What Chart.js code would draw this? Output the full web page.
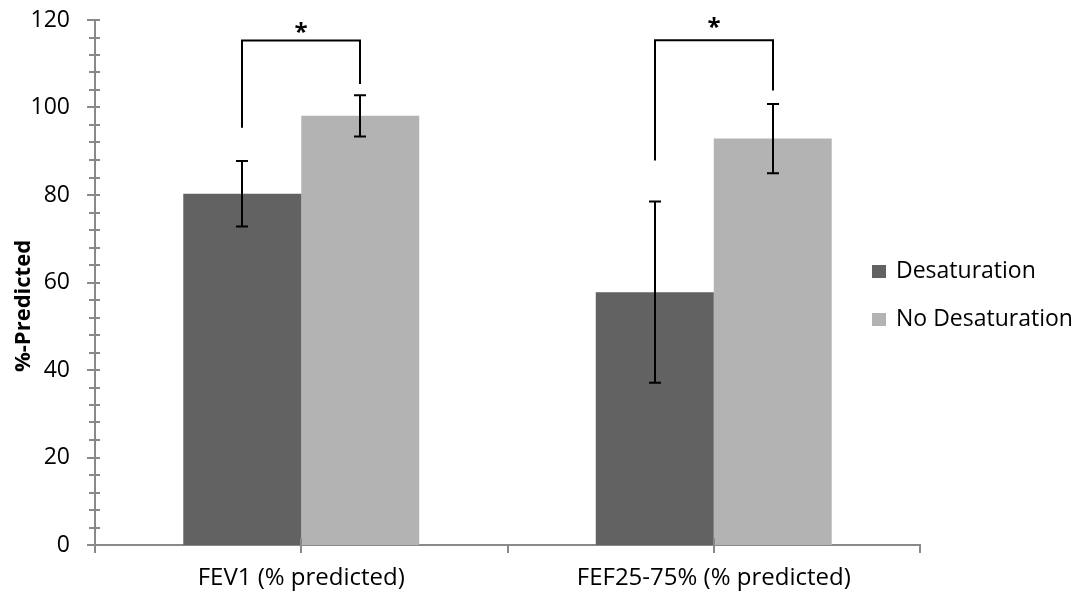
<!DOCTYPE html>
<html>
<head>
<meta charset="utf-8">
<script src="https://cdn.jsdelivr.net/npm/chart.js@4.4.1/dist/chart.umd.min.js"></script>
<style>
  html, body { margin: 0; padding: 0; background: #ffffff; }
  #wrap { width: 1083px; height: 601px; position: relative; }
</style>
</head>
<body>
<div id="wrap"><canvas id="c"></canvas></div>
<script>
// ---- data ----
const categories = ['FEV1 (% predicted)', 'FEF25-75% (% predicted)'];
const seriesLabels = ['Desaturation', 'No Desaturation'];
const desaturation = [80.3, 57.8];
const noDesaturation = [98.1, 92.9];
const desaturationErr = [7.5, 20.7];
const noDesaturationErr = [4.7, 7.9];
// significance brackets (in %-predicted units)
const bracketTop = [115.3, 115.4];
const bracketLeftEnd = [95.4, 87.9];
const bracketRightEnd = [105.4, 103.9];
const starCenter = [118.4, 119.5];
const sigLabels = ['*', '*'];
// y axis
const yMin = 0, yMax = 120, yMajorStep = 20, yMinorStep = 4;
const yTitle = '%-Predicted';

const colors = ['#626262', '#b3b3b3'];
const axisColor = '#898989';
const FONT = "'Open Sans', 'DejaVu Sans', sans-serif";

const errors = [desaturationErr, noDesaturationErr];

const decorPlugin = {
  id: 'decor',
  afterDatasetsDraw(chart) {
    const ctx = chart.ctx;
    const y = chart.scales.y;
    ctx.save();
    // error bars
    ctx.strokeStyle = '#000';
    ctx.lineWidth = 2;
    chart.data.datasets.forEach((ds, di) => {
      const meta = chart.getDatasetMeta(di);
      meta.data.forEach((bar, i) => {
        const v = ds.data[i], e = errors[di][i];
        const px = Math.round(bar.x);
        const top = y.getPixelForValue(v + e);
        const bot = y.getPixelForValue(v - e);
        ctx.beginPath();
        ctx.moveTo(px, top); ctx.lineTo(px, bot);
        ctx.moveTo(px - 6, top); ctx.lineTo(px + 6, top);
        ctx.moveTo(px - 6, bot); ctx.lineTo(px + 6, bot);
        ctx.stroke();
      });
    });
    // brackets and stars
    const m0 = chart.getDatasetMeta(0), m1 = chart.getDatasetMeta(1);
    categories.forEach((c, i) => {
      const xl = Math.round(m0.data[i].x), xr = Math.round(m1.data[i].x);
      const yt = y.getPixelForValue(bracketTop[i]);
      ctx.beginPath();
      ctx.moveTo(xl, y.getPixelForValue(bracketLeftEnd[i]));
      ctx.lineTo(xl, yt);
      ctx.lineTo(xr, yt);
      ctx.lineTo(xr, y.getPixelForValue(bracketRightEnd[i]));
      ctx.stroke();
      ctx.font = 'bold 24px ' + FONT;
      ctx.fillStyle = '#000';
      ctx.textAlign = 'center';
      ctx.textBaseline = 'alphabetic';
      const m = ctx.measureText(sigLabels[i]);
      const mid = (m.actualBoundingBoxAscent - m.actualBoundingBoxDescent) / 2;
      ctx.fillText(sigLabels[i], (xl + xr) / 2, y.getPixelForValue(starCenter[i]) + mid);
    });
    ctx.restore();
  },
  afterDraw(chart) {
    const ctx = chart.ctx;
    const y = chart.scales.y;
    const x = chart.scales.x;
    const area = chart.chartArea;
    ctx.save();
    ctx.strokeStyle = axisColor;
    ctx.lineWidth = 2;
    // y ticks crossing the axis
    y.ticks.forEach(t => {
      const py = Math.round(y.getPixelForValue(t.value));
      const major = t.value % yMajorStep === 0;
      ctx.beginPath();
      ctx.moveTo(area.left - (major ? 8 : 6), py);
      ctx.lineTo(area.left + 5, py);
      ctx.stroke();
    });
    // x ticks: boundaries below, centres crossing
    const half = (x.getPixelForValue(1) - x.getPixelForValue(0)) / 2;
    categories.forEach((c, i) => {
      const cx = Math.round(x.getPixelForValue(i));
      ctx.beginPath();
      ctx.moveTo(cx, area.bottom - 7); ctx.lineTo(cx, area.bottom + 8);
      ctx.stroke();
    });
    for (let i = 0; i <= categories.length; i++) {
      const bx = Math.round(x.getPixelForValue(0) - half + i * 2 * half);
      ctx.beginPath();
      ctx.moveTo(bx, area.bottom); ctx.lineTo(bx, area.bottom + 8);
      ctx.stroke();
    }
    // y title
    ctx.fillStyle = '#000';
    ctx.font = 'bold 22px ' + FONT;
    ctx.textAlign = 'center';
    ctx.textBaseline = 'middle';
    ctx.translate(24, 306);
    ctx.rotate(-Math.PI / 2);
    ctx.fillText(yTitle, 0, 0);
    ctx.restore();
    // legend
    ctx.save();
    ctx.font = '23px ' + FONT;
    ctx.textAlign = 'left';
    ctx.textBaseline = 'middle';
    chart.data.datasets.forEach((ds, di) => {
      const cy = 271 + di * 48;
      ctx.fillStyle = ds.backgroundColor;
      ctx.fillRect(872, cy - 6, 14, 13);
      ctx.fillStyle = '#000';
      ctx.fillText(ds.label, 896, cy);
    });
    ctx.restore();
  }
};

new Chart(document.getElementById('c'), {
  type: 'bar',
  data: {
    labels: categories,
    datasets: [
      { label: seriesLabels[0], data: desaturation, backgroundColor: colors[0] },
      { label: seriesLabels[1], data: noDesaturation, backgroundColor: colors[1] }
    ]
  },
  options: {
    responsive: true,
    maintainAspectRatio: false,
    animation: false,
    devicePixelRatio: 1,
    categoryPercentage: 0.572,
    barPercentage: 1.0,
    layout: { padding: { top: 20, right: 163, left: 0, bottom: 0 } },
    plugins: {
      legend: { display: false },
      tooltip: { enabled: false }
    },
    scales: {
      x: {
        offset: true,
        grid: { display: false, drawTicks: false, offset: true },
        border: { display: true, color: axisColor, width: 2 },
        ticks: { color: '#000', font: { family: FONT, size: 24 }, padding: 19, maxRotation: 0 },
        afterFit(s) { s.height = 56; s.paddingLeft = 0; s.paddingRight = 0; }
      },
      y: {
        min: yMin, max: yMax,
        grid: { display: false, drawTicks: false },
        border: { display: true, color: axisColor, width: 2 },
        ticks: {
          stepSize: yMinorStep,
          autoSkip: false,
          color: '#000',
          padding: 25,
          font: { family: FONT, size: 23 },
          callback: v => (v % yMajorStep === 0 ? String(v) : '')
        },
        afterFit(s) { s.width = 95; s.paddingTop = 0; s.paddingBottom = 0; }
      }
    }
  },
  plugins: [decorPlugin]
});
</script>
</body>
</html>
